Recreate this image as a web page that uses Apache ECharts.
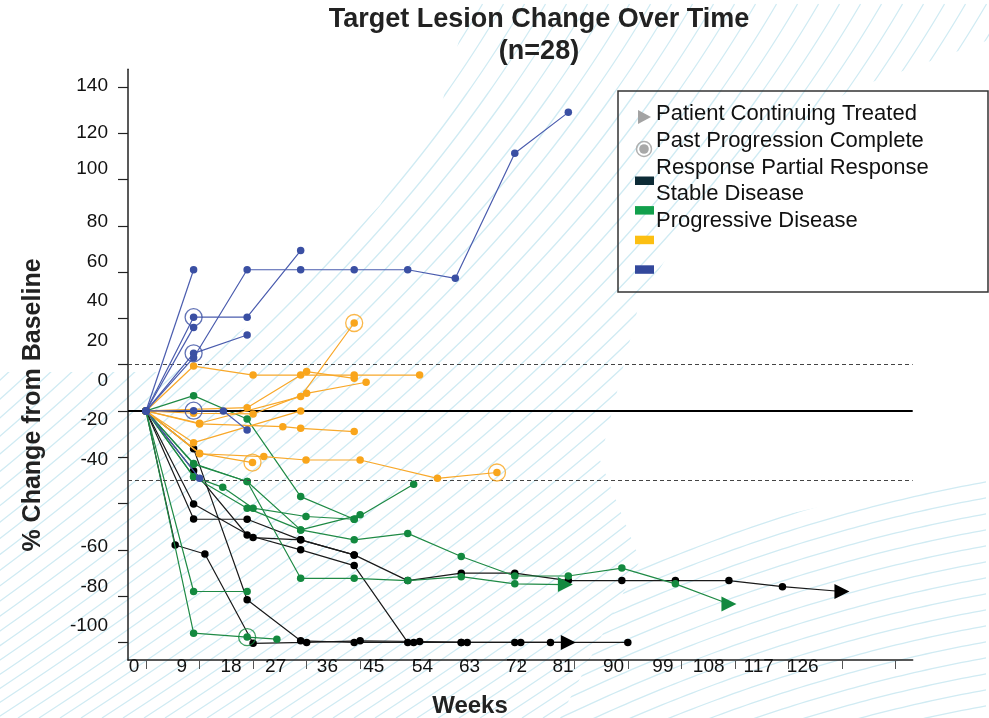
<!DOCTYPE html>
<html><head><meta charset="utf-8">
<script src="https://cdn.jsdelivr.net/npm/echarts@6/dist/echarts.min.js"></script>
<style>html,body{margin:0;padding:0;background:#fff}#c{width:989px;height:718px}</style>
</head><body><div id="c"></div>
<script>
// ---------- axis ticks & labels ----------
const xTickValues = [0, 9, 18, 27, 36, 45, 54, 63, 72, 81, 90, 99, 108, 117, 126];
const xLabelTexts = ['0','9','18','27','36','45','54','63','72','81','90','99','108','117','126'];
const xLabelPositions = [-2.0, 6.0, 14.3, 21.8, 30.5, 38.3, 46.5, 54.4, 62.3, 70.1, 78.6, 86.9, 94.6, 103.0, 110.4];
const yTickValues = [140, 120, 100, 80, 60, 40, 20, 0, -20, -40, -60, -80, -100];
const yLabelTexts = ['140','120','100','80','60','40','20','0','-20','-40','-60','-80','-100'];
const yLabelPositions = [140.4, 120.1, 104.8, 81.9, 64.6, 47.5, 30.2, 12.9, -3.9, -21.2, -58.8, -76.1, -93.0];
const refLines = [20, 0, -30];

// ---------- patients: [week, % change, flag]  flag 'C' = past progression, 'T' = continuing ----------
const completeResponse = [
  [[0,0],[4.9,-57.9],[9.9,-61.8],[18,-100.4],[27,-100],[36,-99.3],[46,-99.6],[54,-100],[63,-100],[71,-100,'T']],
  [[0,0],[8,-16.3],[17,-81.6],[26,-99.3],[35,-100],[45,-100],[53,-100],[62,-100],[68,-100],[81,-100]],
  [[0,0],[8,-25.8],[17,-53.6],[26,-60],[35,-66.8],[44,-100],[53,-100]],
  [[0,0],[8,-40.2],[18,-54.7],[26,-55.7],[35,-62.2],[44,-73.3],[53,-70.1],[62,-70.1],[71,-73.3],[80,-73.3],[89,-73.3],[98,-73.3],[107,-75.9],[117,-78,'T']],
  [[0,0],[8,-46.7],[17,-46.8],[26,-55.7],[35,-62.2]]
];
const partialResponse = [
  [[0,0],[8,6.6],[17,-3.5],[26,-37],[35,-46.8]],
  [[0,0],[8,-22.7],[17,-30.5],[26,-51.4],[35,-55.7],[44,-52.9],[53,-62.9],[62,-71.3],[71,-71.3],[80,-67.9],[89,-74.7],[98,-83.4,'T']],
  [[0,0],[8,-28.4],[12.9,-33],[18,-42],[26.9,-45.6],[35,-46.8],[45,-31.7]],
  [[0,0],[8,-28.4],[17,-42],[26,-51.4],[36,-44.9]],
  [[0,0],[8,-78],[17,-78]],
  [[0,0],[8,-96],[17,-97.7,'C'],[22,-98.6]],
  [[0,0],[8,-23],[17,-30.5],[26,-72.3],[35,-72.3],[44,-73.3],[53,-71.6],[62,-74.7],[70.5,-75,'T']]
];
const stableDisease = [
  [[0,0],[8,19.4],[18,15.5],[26,15.5],[35,15.5],[46,15.5]],
  [[0,0],[9,-5.3],[26,6.2],[35,38,'C']],
  [[0,0],[8,-1],[18,-1.3],[27,7.6],[37,12.4]],
  [[0,0],[17,1.4],[27,17],[35,14.1]],
  [[0,0],[8,-13.7],[26,0]],
  [[0,0],[9,-5.6],[23,-6.8],[26,-7.5],[35,-8.9]],
  [[0,0],[9,-18.3],[17.9,-22.3,'C']],
  [[0,0],[9,-18.5],[19.8,-19.7],[26.9,-21.2],[36,-21.2],[49,-29.1],[59,-26.6,'C']]
];
const progressiveDisease = [
  [[0,0],[8,61]],
  [[0,0],[8,40.5,'C'],[17,40.5],[26,69.3]],
  [[0,0],[8,36.1]],
  [[0,0],[8,24.9,'C'],[17,32.8]],
  [[0,0],[8,23],[17,61],[26,61],[35,61],[44,61],[52,57.3],[62,111.3],[71,129]],
  [[0,0],[8,0.1,'C'],[13,0],[17,-8.2]],
  [[0,0],[9,-29.1]]
];

const groups = [
  {name:'Complete Response', data: completeResponse, color:'#000000', line:'#1a1a1a'},
  {name:'Partial Response', data: partialResponse, color:'#13893f', line:'#1f8a45'},
  {name:'Stable Disease', data: stableDisease, color:'#f9a51b', line:'#f8a82a'},
  {name:'Progressive Disease', data: progressiveDisease, color:'#3a4fa3', line:'#4a5cae'}
];

// ---------- background stripes ----------
function makeBg(){
  const c = document.createElement('canvas'); c.width = 989; c.height = 718;
  const g = c.getContext('2d');
  g.strokeStyle = '#d0ebf3'; g.lineWidth = 1.3;
  g.save();
  g.beginPath();
  g.moveTo(0,372); g.lineTo(175,372); g.lineTo(290,300); g.lineTo(380,205); g.lineTo(440,110); g.lineTo(470,0);
  g.lineTo(989,0); g.lineTo(989,40); g.lineTo(850,90); g.lineTo(700,205); g.lineTo(640,300); g.lineTo(600,460); g.lineTo(640,560); g.lineTo(560,718); g.lineTo(0,718);
  g.closePath(); g.clip();
  for (let k = -1200; k < 1400; k += 21) {
    g.beginPath();
    for (let h = 0; h <= 718; h += 6) {
      const x = k + 1.54*h - 0.000669*h*h;
      const y = 718 - h;
      if (h === 0) g.moveTo(x,y); else g.lineTo(x,y);
    }
    g.stroke();
  }
  g.restore();
  g.save();
  g.beginPath();
  g.moveTo(640,560); g.lineTo(760,520); g.lineTo(989,470); g.lineTo(989,718); g.lineTo(560,718); g.closePath(); g.clip();
  for (let k = 300; k < 1300; k += 16) {
    g.beginPath();
    for (let x = 500; x <= 989; x += 6) {
      const y = k - 0.52*(x-500) + 0.00035*(x-500)*(x-500);
      if (x === 500) g.moveTo(x,y); else g.lineTo(x,y);
    }
    g.stroke();
  }
  g.restore();
  return c.toDataURL();
}

// ---------- build series ----------
const series = [];
series.push({
  type:'line', data:[], z:1, silent:true,
  markLine:{symbol:'none', silent:true, label:{show:false}, animation:false,
    data: refLines.map(v => ({yAxis:v, lineStyle: v===0 ? {color:'#000', width:2, type:'solid'} : {color:'#444', width:1, type:[4,3]}}))}
});
const circles = [];
groups.forEach((grp, gi) => {
  grp.data.forEach((pts, pi) => {
    series.push({
      type:'line', name: grp.name, z: 3 + gi,
      data: pts.map(p => {
        const item = {value:[p[0], p[1]]};
        if (p[2] === 'T') { item.symbol = 'triangle'; item.symbolSize = 15; item.symbolRotate = -90; }
        if (p[2] === 'C') circles.push({value:[p[0], p[1]], itemStyle:{borderColor: grp.color}});
        return item;
      }),
      symbol:'circle', symbolSize:7.5, showAllSymbol:true,
      lineStyle:{color: grp.line, width:1.2},
      itemStyle:{color: grp.color},
      animation:false
    });
  });
});
series.push({
  type:'scatter', z:10, data: circles, symbol:'circle', symbolSize:17,
  itemStyle:{color:'rgba(255,255,255,0)', borderWidth:1.3}, animation:false
});

const legendItems = ['Patient Continuing Treated','Past Progression Complete','Response Partial Response','Stable Disease','Progressive Disease'];
const legendSwatches = ['#0d2b36','#12a04c','#fcbf12','#33489c'];

const graphics = [
  {type:'image', z:-100, silent:true, style:{image: makeBg(), x:0, y:0, width:989, height:718}},
  {type:'text', x:539, y:20, style:{text:'Target Lesion Change Over Time', font:'bold 27px "Liberation Sans", Arial, sans-serif', fill:'#222', align:'center', verticalAlign:'middle'}},
  {type:'text', x:539, y:52, style:{text:'(n=28)', font:'bold 27px "Liberation Sans", Arial, sans-serif', fill:'#222', align:'center', verticalAlign:'middle'}},
  {type:'text', x:470, y:706, style:{text:'Weeks', font:'bold 24px "Liberation Sans", Arial, sans-serif', fill:'#222', align:'center', verticalAlign:'middle'}},
  {type:'text', x:33, y:405, rotation:Math.PI/2, style:{text:'% Change from Baseline', font:'bold 25px "Liberation Sans", Arial, sans-serif', fill:'#222', align:'center', verticalAlign:'middle'}},
  {type:'rect', shape:{x:618, y:91, width:370, height:201}, style:{fill:'rgba(0,0,0,0)', stroke:'#333', lineWidth:1.5}},
  {type:'polygon', shape:{points:[[638,110],[651,117],[638,124]]}, style:{fill:'#a3a3a3'}},
  {type:'circle', shape:{cx:644, cy:149, r:7.5}, style:{fill:'none', stroke:'#b0b0b0', lineWidth:1.5}},
  {type:'circle', shape:{cx:644, cy:149, r:4.8}, style:{fill:'#a8a8a8'}}
];
legendItems.forEach((t, i) => {
  graphics.push({type:'text', x:656, y:114 + i*26.8, style:{text:t, font:'22px "Liberation Sans", Arial, sans-serif', fill:'#111', verticalAlign:'middle'}});
});
legendSwatches.forEach((c, i) => {
  graphics.push({type:'rect', shape:{x:635, y:176.5 + i*29.6, width:19, height:8.5}, style:{fill:c}});
});

const fmt = (positions, texts) => (v) => {
  let best = 0, bd = 1e9;
  positions.forEach((p, i) => { const d = Math.abs(p - v); if (d < bd) { bd = d; best = i; } });
  return texts[best];
};

const chart = echarts.init(document.getElementById('c'), null, {renderer:'canvas'});
chart.setOption({
  backgroundColor:'#fff',
  animation:false,
  grid:{left:128, top:69.3, width:784.7, height:590.7, containLabel:false},
  xAxis:{type:'value', min:-3.03, max:128.9,
    axisLine:{show:true, onZero:false, lineStyle:{color:'#222', width:1.5}},
    axisTick:{show:true, customValues:xTickValues, length:9, inside:false, lineStyle:{color:'#555', width:1}},
    axisLabel:{customValues:xLabelPositions, formatter: fmt(xLabelPositions, xLabelTexts), fontSize:19, color:'#111', fontFamily:'"Liberation Sans", Arial, sans-serif', margin:-3, verticalAlign:'top'},
    splitLine:{show:false}},
  yAxis:{type:'value', min:-107.6, max:147.6,
    axisLine:{show:true, onZero:false, lineStyle:{color:'#222', width:1.5}},
    axisTick:{show:true, customValues:yTickValues, length:10, inside:false, lineStyle:{color:'#222', width:1.2}},
    axisLabel:{customValues:yLabelPositions, formatter: fmt(yLabelPositions, yLabelTexts), fontSize:19, color:'#111', fontFamily:'"Liberation Sans", Arial, sans-serif', margin:20},
    splitLine:{show:false}},
  graphic: graphics,
  series: series
});
</script></body></html>
